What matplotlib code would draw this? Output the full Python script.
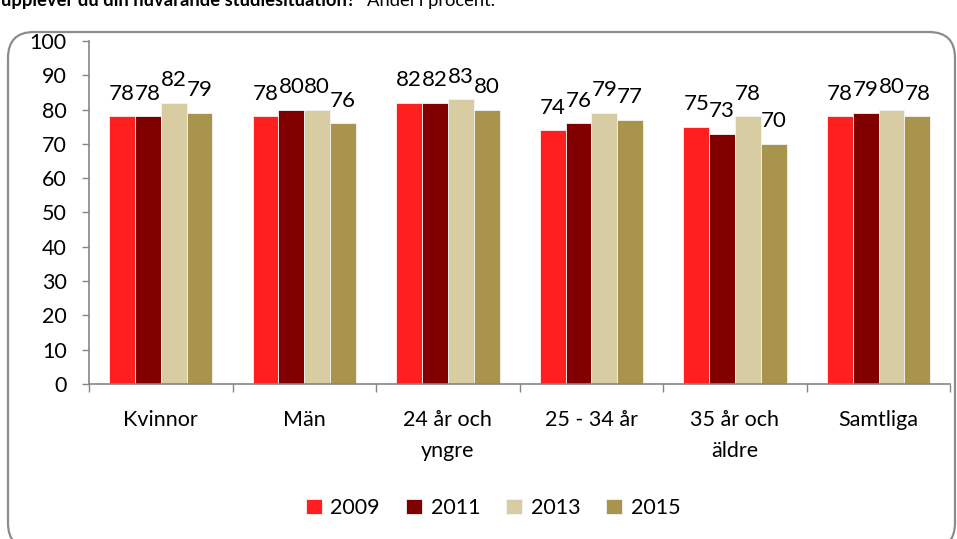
import matplotlib
matplotlib.use("Agg")
import matplotlib.pyplot as plt
import numpy as np
from matplotlib.patches import FancyBboxPatch
from matplotlib.transforms import IdentityTransform

plt.rcParams['font.family'] = ['Lato', 'DejaVu Sans']

# data
categories = ['Kvinnor', 'Män', '24 år och\nyngre', '25 - 34 år', '35 år och\näldre', 'Samtliga']
years = ['2009', '2011', '2013', '2015']
v2009 = [78, 78, 82, 74, 75, 78]
v2011 = [78, 80, 82, 76, 73, 79]
v2013 = [82, 80, 83, 79, 78, 80]
v2015 = [79, 76, 80, 77, 70, 78]
colors = ['#FF1F1F', '#800000', '#D8CCA2', '#A8944C']

fig = plt.figure(figsize=(9.57, 5.39), dpi=100)
ax = fig.add_axes([0.093, 0.2876, 0.900, 0.6364])

x = np.arange(len(categories))
w = 0.18
series = [v2009, v2011, v2013, v2015]
for i, (vals, col, yr) in enumerate(zip(series, colors, years)):
    pos = x + (i - 1.5) * w
    ax.bar(pos, vals, w, color=col, edgecolor='#f4f4f4', linewidth=0.6, label=yr, zorder=2)
    for px, v in zip(pos, vals):
        ax.annotate(str(v), (px, v), xytext=(0, 9), textcoords='offset points',
                    ha='center', va='bottom', fontsize=16)

ax.set_xlim(-0.5, len(categories) - 0.5)
ax.set_ylim(0, 100)
ax.set_yticks(range(0, 101, 10))
ax.set_xticks(x)
ax.set_xticklabels(categories, fontsize=15.5, linespacing=1.65)
ax.set_xticks(np.arange(-0.5, len(categories)), minor=True)
ax.tick_params(axis='x', which='major', length=0, pad=19)
ax.tick_params(axis='x', which='minor', length=6, color='#868686', width=1)
ax.tick_params(axis='y', length=5, color='#868686', width=1, labelsize=15.5, pad=11)
for s in ['top', 'right']:
    ax.spines[s].set_visible(False)
for s in ['left', 'bottom']:
    ax.spines[s].set_color('#868686')
    ax.spines[s].set_linewidth(1.2)

fig.legend(loc='center', bbox_to_anchor=(493 / 957, 1 - 508 / 539), ncol=4,
           frameon=False, fontsize=15.5, handlelength=0.75, handleheight=0.75,
           handletextpad=0.4, columnspacing=1.2)

# rounded chart border
box = FancyBboxPatch((8, -10), 947, 517, boxstyle='round,pad=0,rounding_size=26',
                     transform=IdentityTransform(), facecolor='none',
                     edgecolor='#8c8c8c', linewidth=1.6)
fig.add_artist(box)

# heading at the top, clipped by the picture edge as in the source
t1 = fig.text(1 / 957, 1 - 6 / 539, 'upplever du din nuvarande studiesituation?"',
              fontsize=13.2, fontweight='bold', va='baseline', ha='left')
fig.canvas.draw()
bb = t1.get_window_extent()
fig.text((bb.x1 + 4) / 957, 1 - 6 / 539, 'Andel i procent.', fontsize=13.2,
         va='baseline', ha='left')

fig.savefig('out.png', dpi=100)
